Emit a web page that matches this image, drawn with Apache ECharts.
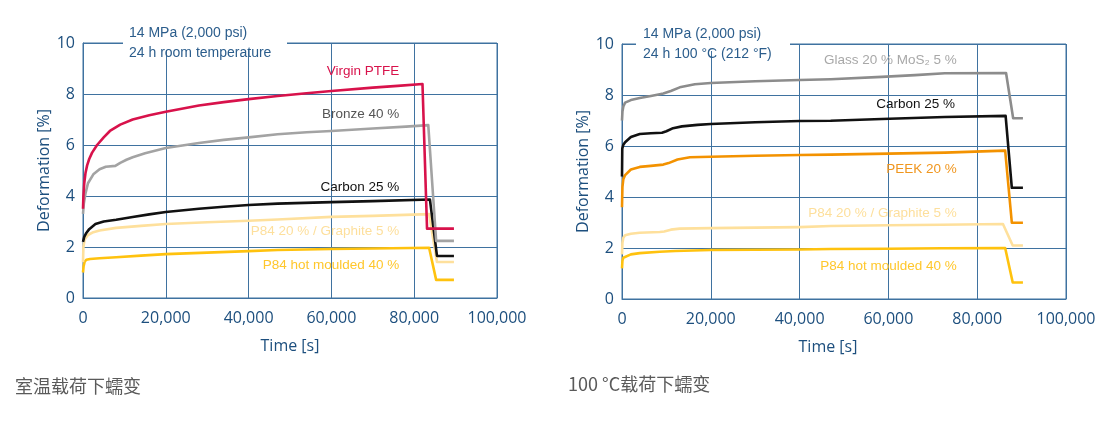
<!DOCTYPE html>
<html><head><meta charset="utf-8">
<script src="https://cdn.jsdelivr.net/npm/echarts@6/dist/echarts.min.js"></script>
<style>html,body{margin:0;padding:0;background:#fff}#c{width:1105px;height:425px}</style>
</head><body><div id="c"></div>
<script>
// ---------- data (time in s, deformation in %) ----------
const yTicks = [0, 2, 4, 6, 8, 10];
const xTicks = [0, 20000, 40000, 60000, 80000, 100000];

// Left: room temperature
const ptfeT = [0,100,300,600,1000,1500,2200,3400,5000,6500,9000,12000,16000,20000,28000,34000,40000,47000,54000,60000,70000,76000,82000,83100,89600];
const ptfeV = [3.5,4.0,4.5,4.9,5.2,5.45,5.7,6.0,6.3,6.55,6.8,7.0,7.17,7.3,7.55,7.68,7.8,7.92,8.03,8.12,8.25,8.32,8.39,2.72,2.72];
const bronzeT = [0,200,600,1200,2500,4000,5500,7800,9000,10500,12000,15000,20000,28000,34000,40000,47000,54000,60000,70000,78000,83400,85300,89600];
const bronzeV = [3.3,3.7,4.1,4.5,4.85,5.05,5.15,5.18,5.3,5.42,5.52,5.68,5.88,6.08,6.2,6.3,6.42,6.5,6.55,6.65,6.72,6.78,2.24,2.24];
const carbonLT = [0,300,800,1500,3000,5000,8000,12000,16000,20000,28000,34000,40000,47000,60000,70000,83800,85500,89600];
const carbonLV = [2.2,2.4,2.55,2.7,2.9,3.0,3.07,3.18,3.28,3.37,3.5,3.58,3.65,3.7,3.76,3.8,3.86,1.65,1.65];
const graphLT = [0,100,400,1200,2500,4000,8000,14000,20000,30000,40000,47000,60000,70000,83600,85500,89600];
const graphLV = [1.4,2.0,2.3,2.47,2.58,2.65,2.75,2.83,2.9,2.97,3.03,3.08,3.18,3.22,3.29,1.41,1.41];
const hotLT = [0,150,400,800,1700,4000,8000,14000,20000,30000,40000,47000,60000,70000,83600,85300,89600];
const hotLV = [1.0,1.25,1.42,1.5,1.53,1.56,1.6,1.66,1.72,1.78,1.84,1.88,1.92,1.94,1.97,0.71,0.71];

// Right: 100 °C
const glassT = [0,100,300,700,2000,4000,6500,8500,9300,11000,13000,16400,20000,30000,40000,47000,58500,66000,72700,86500,88100,90300];
const glassV = [7.0,7.35,7.55,7.7,7.8,7.88,7.96,8.03,8.06,8.16,8.3,8.42,8.47,8.54,8.59,8.62,8.71,8.78,8.85,8.86,7.09,7.09];
const carbonRT = [0,60,300,700,2000,4000,6500,9000,10000,11500,13500,17000,20000,30000,40000,47000,58500,72700,86400,87800,90300];
const carbonRV = [4.8,5.9,6.05,6.15,6.35,6.47,6.5,6.52,6.58,6.7,6.77,6.83,6.86,6.93,6.98,6.99,7.06,7.14,7.18,4.36,4.36];
const peekT = [0,100,300,700,2000,4000,6500,9300,10500,12500,15300,20000,30000,40000,47000,60000,72700,86300,87800,90300];
const peekV = [3.6,4.4,4.7,4.86,5.08,5.18,5.22,5.27,5.33,5.47,5.56,5.58,5.62,5.65,5.66,5.7,5.74,5.82,2.99,2.99];
const graphRT = [0,100,300,700,2000,4000,8500,9500,11000,13000,20000,40000,47000,60000,72000,85800,88000,90300];
const graphRV = [1.75,2.2,2.4,2.5,2.56,2.6,2.63,2.65,2.72,2.76,2.78,2.82,2.86,2.89,2.91,2.94,2.1,2.1];
const hotRT = [0,100,300,700,2000,4000,8500,12000,20000,40000,47000,60000,72000,86300,88000,90300];
const hotRV = [1.2,1.5,1.62,1.69,1.75,1.8,1.85,1.88,1.92,1.94,1.96,1.97,1.99,2.0,0.65,0.65];

// label anchors [time, value] (right edge of text)
const leftLabels = [
  ['Virgin PTFE', 76400, 8.9],
  ['Bronze 40 %', 76400, 7.2],
  ['Carbon 25 %', 76400, 4.35],
  ['P84 20 % / Graphite 5 %', 76400, 2.6],
  ['P84 hot moulded 40 %', 76400, 1.3]
];
const rightLabels = [
  ['Glass 20 % MoS₂ 5 %', 75400, 9.37],
  ['Carbon 25 %', 75000, 7.65],
  ['PEEK 20 %', 75400, 5.1],
  ['P84 20 % / Graphite 5 %', 75400, 3.37],
  ['P84 hot moulded 40 %', 75400, 1.3]
];

// ---------- styling ----------
const axisBlue = '#1d4f7e';
const gridBlue = '#3f72a0';
const tickFont = '"Open Sans", "Noto Sans", sans-serif';
const lblFont = '"Liberation Sans", Arial, sans-serif';

function pairs(t, v) { return t.map((x, i) => [x, v[i]]); }

function mkSeries(idx, name, t, v, lineColor, lblColor, lbl) {
  return {
    type: 'line', name: name, xAxisIndex: idx, yAxisIndex: idx,
    data: pairs(t, v), showSymbol: false, symbol: 'none',
    lineStyle: { color: lineColor, width: 2.6, join: 'round' },
    z: 3, animation: false,
    markPoint: {
      symbol: 'circle', symbolSize: 0, silent: true, animation: false,
      data: [{ coord: [lbl[1], lbl[2]] }],
      label: { show: true, position: 'left', distance: 0, formatter: lbl[0],
               color: lblColor, fontSize: 13.5, fontFamily: lblFont }
    }
  };
}

function mkX(idx, padRight) {
  return {
    gridIndex: idx, type: 'value', min: xTicks[0], max: xTicks[xTicks.length - 1],
    interval: xTicks[1] - xTicks[0],
    name: 'Time [s]', nameLocation: 'middle', nameGap: 40,
    nameTextStyle: { color: axisBlue, fontSize: 16, fontFamily: tickFont, padding: [0, padRight, 0, 0] },
    axisLine: { show: true, lineStyle: { color: gridBlue, width: 1 } },
    axisTick: { show: false },
    axisLabel: { color: axisBlue, fontSize: 16, fontFamily: tickFont, margin: 12,
                 formatter: v => v.toLocaleString('en-US') },
    splitLine: { show: true, lineStyle: { color: gridBlue, width: 1 } }
  };
}
function mkY(idx) {
  return {
    gridIndex: idx, type: 'value', min: yTicks[0], max: yTicks[yTicks.length - 1],
    interval: yTicks[1] - yTicks[0],
    name: 'Deformation [%]', nameLocation: 'middle', nameGap: 27,
    nameTextStyle: { color: axisBlue, fontSize: 16, fontFamily: tickFont },
    axisLine: { show: true, lineStyle: { color: gridBlue, width: 1 } },
    axisTick: { show: false },
    axisLabel: { color: axisBlue, fontSize: 16, fontFamily: tickFont, margin: 8 },
    splitLine: { show: true, lineStyle: { color: gridBlue, width: 1 } }
  };
}

const chart = echarts.init(document.getElementById('c'), null, { renderer: 'canvas' });
const annColor = '#2b5d8c';
chart.setOption({
  animation: false,
  backgroundColor: '#fff',
  grid: [
    { left: 83, top: 43, width: 414, height: 255, show: true, borderColor: gridBlue, borderWidth: 1 },
    { left: 622, top: 44, width: 444, height: 255, show: true, borderColor: gridBlue, borderWidth: 1 }
  ],
  xAxis: [mkX(0, 0), mkX(1, 32)],
  yAxis: [mkY(0), mkY(1)],
  series: [
    mkSeries(0, 'P84 hot moulded 40 %', hotLT, hotLV, '#ffc20e', '#ffc72c', leftLabels[4]),
    mkSeries(0, 'P84 20 % / Graphite 5 %', graphLT, graphLV, '#fee09c', '#fddf9c', leftLabels[3]),
    mkSeries(0, 'Carbon 25 %', carbonLT, carbonLV, '#111111', '#111111', leftLabels[2]),
    mkSeries(0, 'Bronze 40 %', bronzeT, bronzeV, '#a3a3a3', '#555555', leftLabels[1]),
    mkSeries(0, 'Virgin PTFE', ptfeT, ptfeV, '#d8124b', '#d8124b', leftLabels[0]),
    mkSeries(1, 'P84 hot moulded 40 %', hotRT, hotRV, '#ffc20e', '#ffc72c', rightLabels[4]),
    mkSeries(1, 'P84 20 % / Graphite 5 %', graphRT, graphRV, '#fee09c', '#fddf9c', rightLabels[3]),
    mkSeries(1, 'PEEK 20 %', peekT, peekV, '#f39200', '#f0961e', rightLabels[2]),
    mkSeries(1, 'Carbon 25 %', carbonRT, carbonRV, '#111111', '#111111', rightLabels[1]),
    mkSeries(1, 'Glass 20 % MoS₂ 5 %', glassT, glassV, '#8c8c8c', '#a8a8a8', rightLabels[0])
  ],
  graphic: [
    { type: 'rect', shape: { x: 123, y: 36, width: 164, height: 14 }, style: { fill: '#fff' }, z: 100 },
    { type: 'text', x: 129, y: 33, z: 101, style: { text: '14 MPa (2,000 psi)', fill: annColor, font: '14px "Liberation Sans", Arial, sans-serif', verticalAlign: 'middle' } },
    { type: 'text', x: 129, y: 53, z: 101, style: { text: '24 h room temperature', fill: annColor, font: '14px "Liberation Sans", Arial, sans-serif', verticalAlign: 'middle' } },
    { type: 'rect', shape: { x: 636, y: 37, width: 154, height: 14 }, style: { fill: '#fff' }, z: 100 },
    { type: 'text', x: 643, y: 34, z: 101, style: { text: '14 MPa (2,000 psi)', fill: annColor, font: '14px "Liberation Sans", Arial, sans-serif', verticalAlign: 'middle' } },
    { type: 'text', x: 643, y: 54, z: 101, style: { text: '24 h 100 °C (212 °F)', fill: annColor, font: '14px "Liberation Sans", Arial, sans-serif', verticalAlign: 'middle' } },
    { type: 'text', x: 15, y: 386, z: 101, style: { text: '室温载荷下蠕变', fill: '#5a5a5a', font: '18px "Noto Sans CJK SC", sans-serif', verticalAlign: 'middle' } },
    { type: 'text', x: 568, y: 384, z: 101, style: { text: '100 °C载荷下蠕变', fill: '#5a5a5a', font: '18px "Noto Sans CJK SC", sans-serif', verticalAlign: 'middle' } }
  ]
});
</script></body></html>
